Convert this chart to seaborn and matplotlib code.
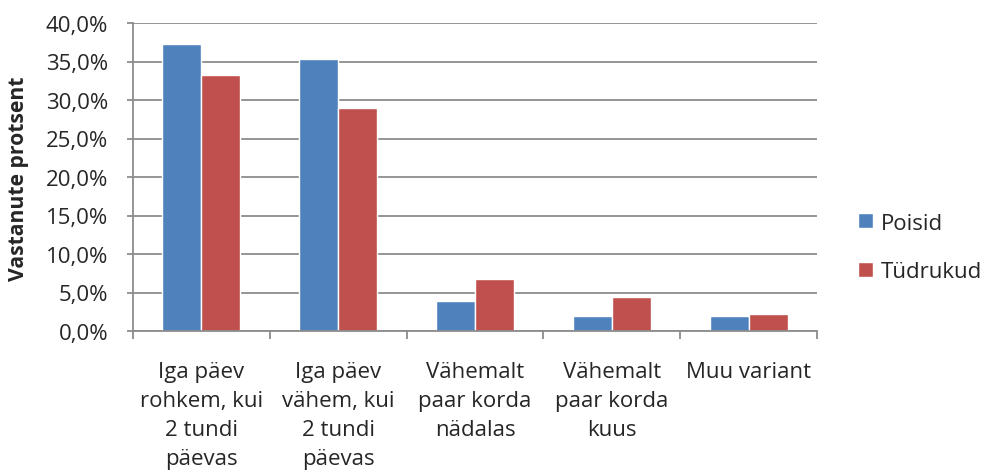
import matplotlib
matplotlib.use("Agg")
import matplotlib.pyplot as plt
import seaborn as sns
import pandas as pd
from matplotlib.ticker import FuncFormatter, FixedLocator

categories = ["Iga päev\nrohkem, kui\n2 tundi\npäevas",
              "Iga päev\nvähem, kui\n2 tundi\npäevas",
              "Vähemalt\npaar korda\nnädalas",
              "Vähemalt\npaar korda\nkuus",
              "Muu variant"]
poisid = [37.3, 35.3, 3.9, 2.0, 2.0]
tudrukud = [33.3, 28.9, 6.7, 4.4, 2.2]
series = ["Poisid", "Tüdrukud"]
colors = ["#4F81BD", "#C0504D"]
yticks = [0, 5, 10, 15, 20, 25, 30, 35, 40]

df = pd.DataFrame({
    "cat": categories * 2,
    "val": poisid + tudrukud,
    "grp": [series[0]] * len(categories) + [series[1]] * len(categories),
})

sns.set_style("white")
plt.rcParams["font.family"] = ["Open Sans", "DejaVu Sans"]

W, H = 989, 477
fig = plt.figure(figsize=(W / 100, H / 100), dpi=100)
ax = fig.add_axes([133 / W, 1 - 332 / H, (817 - 133) / W, (332 - 24) / H])

sns.barplot(data=df, x="cat", y="val", hue="grp", palette=colors,
            width=0.57, ax=ax, saturation=1, legend=True)

ax.set_ylim(0, 40)
ax.set_xlim(-0.5, len(categories) - 0.5)
ax.set_yticks(yticks)
ax.yaxis.set_major_formatter(FuncFormatter(lambda v, p: f"{v:.1f}".replace(".", ",") + "%"))
ax.grid(axis="y", color="#8C8C8C", linewidth=1.3)
ax.set_axisbelow(True)

for s in ["top", "right"]:
    ax.spines[s].set_visible(False)
for s in ["left", "bottom"]:
    ax.spines[s].set_color("#8C8C8C")
    ax.spines[s].set_linewidth(1.3)

ax.tick_params(axis="y", which="major", length=4, color="#8C8C8C", width=1.3,
               labelsize=16, pad=14, left=True, direction="out")
ax.tick_params(axis="x", which="major", length=0, labelsize=16, pad=21.5)
ax.xaxis.set_minor_locator(FixedLocator([i - 0.5 for i in range(len(categories) + 1)]))
ax.tick_params(axis="x", which="minor", length=6, color="#8C8C8C", width=1.3,
               bottom=True, direction="out")
for lbl in ax.get_xticklabels():
    lbl.set_linespacing(1.5)
    lbl.set_verticalalignment("top")

ax.set_xlabel("")
ax.set_ylabel("")
fig.text(19 / W, 1 - 178.5 / H, "Vastanute protsent", rotation=90,
         ha="center", va="center", fontsize=15.2, fontweight="bold")

leg = ax.legend(loc="center left", bbox_to_anchor=(858 / W, 1 - 248.5 / H),
                bbox_transform=fig.transFigure, frameon=False,
                fontsize=16, handlelength=0.68, handleheight=0.68,
                handletextpad=0.35, labelspacing=1.25, borderpad=0, borderaxespad=0)

fig.savefig("out.png", dpi=100)
